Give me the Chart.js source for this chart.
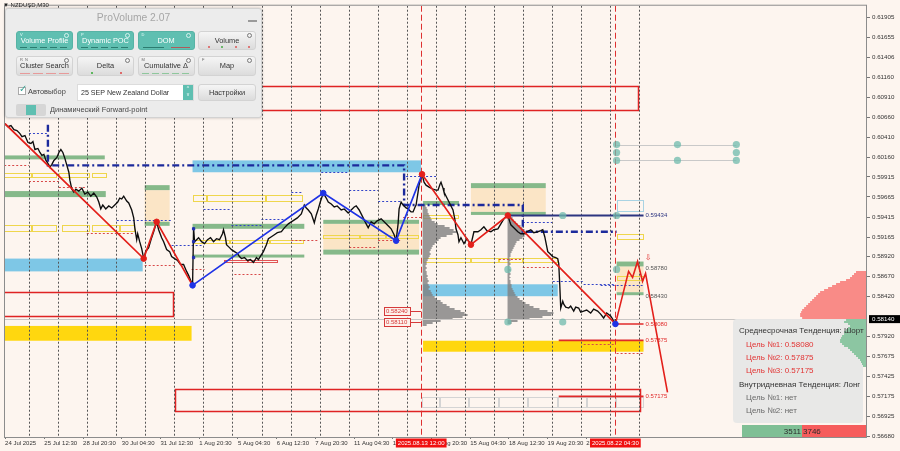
<!DOCTYPE html>
<html><head><meta charset="utf-8">
<script src="https://cdn.jsdelivr.net/npm/chart.js@4/dist/chart.umd.min.js"></script>
<style>
html,body{margin:0;padding:0;background:#fdf5ef;}
#wrap{position:relative;width:900px;height:451px;overflow:hidden;font-family:'Liberation Sans',Arial,sans-serif;}
#c{position:absolute;left:0;top:0;}
#sym{position:absolute;left:3px;top:2px;font-size:6px;line-height:7px;color:#222;}
#pv{position:absolute;left:5px;top:8px;width:257px;height:110px;background:#ececec;border:1px solid #d2d2d2;border-radius:3px;box-shadow:0 0 3px rgba(0,0,0,.25);box-sizing:border-box;}
#pv .ttl{position:absolute;left:0;right:0;top:3px;text-align:center;font-size:10.3px;color:#a6a6a6;}
#pv .mn{position:absolute;right:4px;top:11px;width:9px;height:1.5px;background:#9a9a9a;}
.btn{position:absolute;height:19px;border-radius:3px;background:linear-gradient(#f5f5f5,#dcdcdc);border:1px solid #d3d3d3;box-sizing:border-box;}
.btn.on{background:#5fbfb1;border-color:#57b3a5;}
.btn .t{position:absolute;left:0;right:0;top:4.5px;text-align:center;font-size:7.4px;line-height:8px;color:#333;white-space:nowrap;}
.btn.on .t{color:#fff;}
.btn .k{position:absolute;left:3px;top:0;font-size:4px;line-height:5px;color:#666;font-style:normal;}
.btn.on .k{color:#e9fffb;}
.btn .g{position:absolute;right:3px;top:1px;width:3px;height:3px;border-radius:50%;border:1px solid #7a7a7a;}
.btn.on .g{border-color:#d8f3ef;}
.ind{position:absolute;left:3px;right:3px;bottom:1.5px;height:1px;}
.ind.tl{background:repeating-linear-gradient(90deg,#2c7c70 0 7px,transparent 7px 10px);}
.ind.rd{background:repeating-linear-gradient(90deg,#e79a9a 0 10px,transparent 10px 13px);}
.ind.mx{background:repeating-linear-gradient(90deg,#8fc79d 0 7px,transparent 7px 10px);}
.dot{position:absolute;bottom:1.5px;width:2px;height:2px;border-radius:1px;}
.chk{position:absolute;left:12px;top:78px;width:8px;height:8px;background:#fff;border:1px solid #aaa;box-sizing:border-box;}
.chk span{position:absolute;left:0px;top:-5px;font-size:10px;color:#3aa596;}
.lbl{position:absolute;font-size:7.4px;line-height:8px;color:#444;white-space:nowrap;}
.dd{position:absolute;left:71px;top:75px;width:117px;height:17px;background:#fff;border:1px solid #dcdcdc;box-sizing:border-box;}
.dd .tx{position:absolute;left:3px;top:4px;font-size:7.1px;line-height:8px;color:#333;white-space:nowrap;}
.dd .sp{position:absolute;right:0;top:0;width:10px;height:15px;background:#5fbfb1;color:#fff;font-size:5px;line-height:6px;text-align:center;}
.tg{position:absolute;left:10px;top:95px;width:30px;height:12px;background:#d6d6d6;border-radius:2px;}
.tg i{position:absolute;left:10px;top:1px;width:10px;height:10px;background:#5fbfb1;}
#info{position:absolute;left:733px;top:319px;width:130px;height:104px;font-size:8px;line-height:9px;}
#info div{position:absolute;white-space:nowrap;}
.h{color:#333;left:6px;}
.r{color:#e23434;left:13px;}
.n{color:#6a6a6a;left:13px;}
</style></head><body>
<div id="wrap">
<canvas id="c" width="900" height="451" style="width:900px;height:451px"></canvas>
<div id="sym">▼ NZDUSD,M30</div>
<div id="info">
  <div class="h" style="top:7px">Среднесрочная Тенденция: Шорт</div>
  <div class="r" style="top:20.5px">Цель №1: 0.58080</div>
  <div class="r" style="top:34px">Цель №2: 0.57875</div>
  <div class="r" style="top:47px">Цель №3: 0.57175</div>
  <div class="h" style="top:60.5px">Внутридневная Тенденция: Лонг</div>
  <div class="n" style="top:74px">Цель №1: нет</div>
  <div class="n" style="top:87px">Цель №2: нет</div>
</div>
<div id="pv">
  <div class="ttl">ProVolume 2.07</div><div class="mn"></div>
  <div class="btn on" style="left:10px;top:22px;width:57px"><i class="k">V</i><i class="g"></i><span class="t">Volume Profile</span><b class="ind tl"></b></div>
  <div class="btn on" style="left:71px;top:22px;width:57px"><i class="k">P</i><i class="g"></i><span class="t">Dynamic POC</span><b class="ind tl"></b></div>
  <div class="btn on" style="left:131.5px;top:22px;width:57px"><i class="k">D</i><i class="g"></i><span class="t">DOM</span><b class="ind" style="left:4px;right:30px;background:#2c7c70"></b><b class="ind" style="left:32px;right:4px;background:#b05a5a"></b></div>
  <div class="btn" style="left:192px;top:22px;width:58px"><i class="g"></i><span class="t">Volume</span><b class="dot" style="left:9px;background:#d55"></b><b class="dot" style="left:22px;background:#4a4"></b><b class="dot" style="left:36px;background:#d55"></b><b class="dot" style="left:49px;background:#d55"></b></div>
  <div class="btn" style="left:10px;top:47px;width:57px;height:20px"><i class="k">R&nbsp;&nbsp;N</i><i class="g"></i><span class="t">Cluster Search</span><b class="ind rd"></b></div>
  <div class="btn" style="left:71px;top:47px;width:57px;height:20px"><i class="g"></i><span class="t">Delta</span><b class="dot" style="left:13px;background:#3a3"></b><b class="dot" style="left:42px;background:#d44"></b></div>
  <div class="btn" style="left:131.5px;top:47px;width:57px;height:20px"><i class="k">M</i><i class="g"></i><span class="t">Cumulative Δ</span><b class="ind mx"></b></div>
  <div class="btn" style="left:192px;top:47px;width:58px;height:20px"><i class="k">F</i><i class="g"></i><span class="t">Map</span></div>
  <div class="chk"><span>✓</span></div>
  <div class="lbl" style="left:22px;top:79px">Автовыбор</div>
  <div class="dd"><span class="tx">25 SEP New Zealand Dollar</span><div class="sp">^<br>v</div></div>
  <div class="btn" style="left:192px;top:75px;width:58px;height:17px"><span class="t" style="top:4px">Настройки</span></div>
  <div class="tg"><i></i></div>
  <div class="lbl" style="left:44px;top:97px">Динамический Forward-point</div>
</div>
</div>
<script>
// ---------- DATA (time = trading day index from 24 Jul 2025 00:00, price = NZDUSD) ----------
const xTickDays = [0.1667,1.5208,2.8542,4.1875,5.5208,6.8542,8.1875,9.5208,10.8542,12.1875,13.5208,14.8542,16.1875,17.5208,18.8542,20.1875];
const xTickLabels = ['24 Jul 2025','25 Jul 12:30','28 Jul 20:30','30 Jul 04:30','31 Jul 12:30','1 Aug 20:30','5 Aug 04:30','6 Aug 12:30','7 Aug 20:30','11 Aug 04:30','12 Aug 12:30','13 Aug 20:30','15 Aug 04:30','18 Aug 12:30','19 Aug 20:30','21 Aug 04:30'];
const yTickLabels = ['0.61905','0.61655','0.61406','0.61160','0.60910','0.60660','0.60410','0.60160','0.59915','0.59665','0.59415','0.59165','0.58920','0.58670','0.58420','0.57920','0.57675','0.57425','0.57175','0.56925','0.56680'];
const currentPrice = 0.58140;
const timeMarkerDays = [14.5, 21.1875];
const timeMarkerLabels = ['2025.08.13 12:00','2025.08.22 04:30'];

const priceDays = [0.165,0.268,0.371,0.474,0.577,0.680,0.749,0.852,0.955,1.058,
1.127,1.196,1.299,1.368,1.436,1.505,1.574,1.643,1.711,1.780,
1.849,1.952,2.021,2.089,2.158,2.227,2.296,2.364,2.399,2.467,
2.536,2.605,2.708,2.811,2.914,3.017,3.120,3.223,3.326,3.395,
3.464,3.533,3.636,3.739,3.842,3.945,4.048,4.117,4.186,4.254,
4.357,4.426,4.529,4.598,4.632,4.667,4.701,4.735,4.804,4.873,
4.942,5.010,5.113,5.216,5.285,5.388,5.457,5.560,5.629,5.732,
5.835,5.904,6.007,6.110,6.213,6.316,6.419,6.488,6.557,6.625,
6.660,6.694,6.763,6.832,6.935,7.038,7.141,7.244,7.347,7.450,
7.553,7.656,7.691,7.759,7.794,7.897,7.966,8.069,8.172,8.241,
8.309,8.412,8.515,8.619,8.722,8.825,8.893,8.997,9.065,9.168,
9.237,9.340,9.443,9.546,9.684,9.787,9.924,10.027,10.131,10.234,
10.371,10.440,10.474,10.543,10.612,10.715,10.784,10.818,10.887,10.955,
11.024,11.127,11.230,11.299,11.402,11.505,11.608,11.746,11.849,11.986,
12.089,12.192,12.261,12.364,12.433,12.536,12.605,12.674,12.777,12.880,
12.983,13.120,13.223,13.292,13.395,13.464,13.567,13.636,13.704,13.739,
13.808,13.876,13.979,14.048,14.151,14.220,14.289,14.323,14.392,14.426,
14.495,14.529,14.598,14.667,14.770,14.907,15.010,15.079,15.148,15.182,
15.251,15.285,15.388,15.457,15.526,15.595,15.663,15.698,15.766,15.801,
15.869,15.973,16.076,16.213,16.316,16.454,16.557,16.660,16.763,16.900,
17.003,17.141,17.244,17.347,17.416,17.485,17.553,17.588,17.691,17.828,
17.931,18.034,18.137,18.275,18.378,18.515,18.619,18.687,18.756,18.790,
18.859,18.928,19.031,19.134,19.203,19.237,19.271,19.306,19.375,19.409,
19.478,19.581,19.649,19.753,19.821,19.924,19.993,20.096,20.199,20.337,
20.440,20.577,20.680,20.784,20.887,21.024,21.093,21.162,21.190];
const priceClose = [0.60580,0.60543,0.60556,0.60506,0.60494,0.60457,0.60419,0.60432,0.60345,0.60333,
0.60357,0.60258,0.60271,0.60221,0.60184,0.60197,0.60122,0.60085,0.60036,0.60073,
0.60122,0.60159,0.60221,0.60258,0.60221,0.60147,0.60060,0.59974,0.59875,0.59763,
0.59726,0.59763,0.59738,0.59776,0.59701,0.59726,0.59676,0.59714,0.59664,0.59602,
0.59516,0.59565,0.59516,0.59553,0.59528,0.59565,0.59602,0.59652,0.59640,0.59676,
0.59615,0.59590,0.59503,0.59404,0.59293,0.59206,0.59132,0.59206,0.59107,0.59020,
0.58896,0.58983,0.59033,0.59157,0.59231,0.59355,0.59256,0.59157,0.59107,0.59008,
0.58983,0.58921,0.58896,0.58872,0.58822,0.58822,0.58736,0.58686,0.58624,0.58562,
0.59280,0.59107,0.59132,0.59157,0.59107,0.59082,0.59132,0.59157,0.59107,0.59144,
0.59132,0.59206,0.59256,0.59157,0.59070,0.59033,0.59008,0.58983,0.58959,0.58921,
0.58896,0.58909,0.58872,0.58884,0.58847,0.58909,0.58884,0.58946,0.58983,0.59070,
0.59144,0.59169,0.59194,0.59219,0.59231,0.59280,0.59330,0.59355,0.59380,0.59404,
0.59454,0.59528,0.59565,0.59528,0.59503,0.59454,0.59380,0.59343,0.59441,0.59516,
0.59602,0.59714,0.59652,0.59602,0.59578,0.59540,0.59553,0.59503,0.59516,0.59466,
0.59503,0.59540,0.59553,0.59503,0.59454,0.59380,0.59330,0.59280,0.59355,0.59330,
0.59367,0.59392,0.59355,0.59330,0.59293,0.59268,0.59194,0.59120,0.59330,0.59516,
0.59602,0.59565,0.59528,0.59516,0.59479,0.59479,0.59540,0.59565,0.59726,0.59813,
0.59912,0.59949,0.59850,0.59813,0.59788,0.59763,0.59751,0.59751,0.59825,0.59850,
0.59776,0.59726,0.59652,0.59602,0.59553,0.59503,0.59380,0.59268,0.59194,0.59107,
0.59157,0.59082,0.59144,0.59070,0.59231,0.59231,0.59256,0.59293,0.59244,0.59231,
0.59256,0.59268,0.59330,0.59392,0.59416,0.59434,0.59355,0.59318,0.59280,0.59231,
0.59206,0.59206,0.59231,0.59256,0.59219,0.59231,0.59244,0.59256,0.59169,0.59107,
0.58983,0.58959,0.58921,0.58909,0.58896,0.58835,0.58575,0.58278,0.58364,0.58327,
0.58290,0.58278,0.58303,0.58241,0.58290,0.58278,0.58228,0.58241,0.58253,0.58216,
0.58265,0.58241,0.58203,0.58154,0.58216,0.58179,0.58142,0.58080,0.58140];

const zigzagDays   = [0.165,4.942,5.388,6.625,11.127,13.636,14.529,16.213,17.485,21.19];
const zigzagPrices = [0.60580,0.58896,0.59355,0.58562,0.59714,0.59120,0.59949,0.59070,0.59434,0.58080];
const forecastDays   = [21.19,21.643,21.780,21.952,22.124,22.227,22.983];
const forecastPrices = [0.58080,0.58736,0.58661,0.58860,0.58612,0.58711,0.57225];
const spikeMarkDays = [6.66,6.66,6.66];
const spikeMarkPrices = [0.59268,0.59107,0.58909];

// zones: [startDay, endDay, topPrice, bottomPrice]
const greenZones = [[0,3.601,0.60184,0.60135],[0,3.636,0.59739,0.59664],[4.976,5.835,0.59813,0.59751],[4.976,5.835,0.59355,0.59305],
 [6.625,10.474,0.59330,0.59268],[6.625,10.474,0.58946,0.58909],[11.127,14.426,0.59380,0.59330],[11.127,14.426,0.59008,0.58946],
 [14.564,15.801,0.59615,0.59565],[16.213,18.790,0.59838,0.59776],[16.213,18.790,0.59479,0.59441],[21.23,22.158,0.58859,0.58798],[21.23,22.158,0.58476,0.58439]];
const beigeZones = [[4.976,5.835,0.59751,0.59355],[11.127,14.426,0.59330,0.59008],[16.213,18.790,0.59776,0.59479],[21.23,22.158,0.58798,0.58476]];
const blueZones = [[0,4.907,0.58896,0.58736],[6.625,14.495,0.60122,0.59974],[14.564,19.203,0.58575,0.58426]];
const goldZones = [[0,6.591,0.58055,0.57870],[14.564,22.158,0.57870,0.57733]];
const yellowBoxes = [[0,1.093,0.59961,0.59899],[1.093,1.952,0.59961,0.59899],[2.021,3.086,0.59961,0.59899],[3.155,3.670,0.59961,0.59899],
 [0,1.093,0.59318,0.59231],[1.093,1.952,0.59318,0.59231],[2.124,3.086,0.59318,0.59231],[3.155,4.117,0.59318,0.59231],[4.117,4.632,0.59318,0.59231],
 [6.625,7.107,0.59689,0.59602],[7.107,9.168,0.59689,0.59602],[9.168,10.440,0.59689,0.59602],
 [6.625,7.9,0.59132,0.59082],[7.9,9.3,0.59132,0.59082],[9.3,10.474,0.59132,0.59082],
 [11.127,12.4,0.59194,0.59144],[12.4,13.3,0.59194,0.59144],[13.3,14.426,0.59194,0.59144],
 [14.564,15.801,0.59441,0.59392],
 [14.564,16.213,0.58909,0.58835],[16.213,17.175,0.58909,0.58835],[17.175,18.0,0.58909,0.58835],[18.0,19.203,0.58909,0.58835],
 [21.23,22.158,0.59206,0.59132],[21.23,22.158,0.58674,0.58612]];
const redBoxes = [[0,21.986,0.61051,0.60741],[0,5.973,0.58476,0.58166],[6.007,22.055,0.57262,0.56978]];
const smallRedBoxes = [[7.691,8.55,0.58884,0.58835],[8.55,9.581,0.58884,0.58835]];
const grayBoxes = [[14.529,15.148,0.57163,0.57027],[15.148,16.144,0.57163,0.57027],[16.144,17.175,0.57163,0.57027],[17.175,18.172,0.57163,0.57027],
 [18.172,19.203,0.57163,0.57027],[19.203,20.199,0.57163,0.57027],[20.199,21.196,0.57163,0.57027],[21.196,22.158,0.57163,0.57027]];
const blueOutlineBoxes = [[21.23,22.158,0.59627,0.59479]];
// levels: [startDay, endDay, price]
const redDotted = [[0,0.99,0.60060],[0.99,2.021,0.59862],[2.021,2.914,0.59788],[2.983,4.632,0.59219],[4.976,6.007,0.58822],[6.591,7.038,0.58760],
 [8.069,8.997,0.58699],[10.027,10.955,0.59132],[12.021,12.95,0.59045],[13.017,13.808,0.59132],[13.876,14.564,0.59417],[17.175,18.0,0.58896],
 [18.0,19.031,0.58785],[20.096,21.196,0.57832],[21.23,22.158,0.57720]];
const blueDotted = [[0.99,1.608,0.60469],[4.014,5.904,0.59380],[5.904,6.935,0.59070],[7.003,7.966,0.59516],[7.966,8.997,0.59318],[8.997,9.856,0.59392],
 [10.027,10.440,0.59726],[11.058,11.986,0.59974],[12.021,13.017,0.59751],[13.017,13.808,0.59615],[13.979,15.010,0.59924],[18.0,19.031,0.59355],
 [19.031,20.096,0.58612],[20.096,21.196,0.58575],[20.68,22.158,0.58562]];
const navyPathDays   = [1.643,1.643,13.911,13.911,18.0,18.0,21.23];
const navyPathPrices = [0.60568,0.60060,0.60060,0.59565,0.59565,0.59231,0.59231];
const targetLevels = [0.59434,0.58780,0.58430,0.58080,0.57875,0.57175];
const targetLineStarts = [17.519,null,null,21.23,19.237,19.237];
const targetEndDay = 22.158;
const priceTags = [0.58240,0.58110];
const circleDays   = [19.375,21.23,17.485,21.23,17.485,19.375,21.23,21.23,21.23,23.326,23.326,25.354,25.354,25.354];
const circlePrices = [0.59434,0.59434,0.58760,0.58760,0.58104,0.58104,0.60320,0.60221,0.60122,0.60320,0.60122,0.60320,0.60221,0.60122];
// volume profiles (relative volume per price bin, top bin first)
const profile1Start = 14.55, profile1Top = 0.59565;
const profile1Vol = [3,4,5,5,6,7,8,9,12,15,22,27,31,34,30,24,18,16,14,12,10,9,8,7,8,7,6,5,4,4,3,4,3,4,4,5,4,5,6,5,6,7,6,8,9,10,12,14,18,20,24,27,32,38,42,45,40,30,18,10,4];
const profile2Start = 17.474, profile2Top = 0.59441;
const profile2Vol = [3,5,6,8,10,13,15,17,18,19,17,15,12,9,8,7,6,5,4,3,3,2,3,2,3,2,2,3,2,3,2,3,2,3,3,4,4,5,6,7,8,10,12,15,18,22,26,32,40,46,44,35,22,10,4];
const sellProfileTop = 0.58736;
const sellProfileVol = [10,12,14,16,20,26,30,34,38,42,46,48,50,52,54,56,58,60,62,64,65,66,66,64];
const buyProfileTop = 0.58142;
const buyProfileVol = [20,22,18,16,18,20,22,22,24,25,26,26,24,22,18,16,14,12,10,8,6,5,4,3];
const buyVolume = 3511, sellVolume = 3746;

// ---------- drawing ----------
const binStep = 0.000248, volToDays = 1/29.1;
Chart.defaults.font.family = "'Liberation Sans', Arial, sans-serif";

const overlay = {
  id:'overlay',
  beforeDraw(chart){ const c=chart.ctx; c.save(); c.fillStyle='#fdf5ef'; c.fillRect(0,0,chart.width,chart.height); c.restore(); },
  beforeDatasetsDraw(chart){
    const ctx=chart.ctx, xs=chart.scales.x, ys=chart.scales.y, ca=chart.chartArea;
    const X=v=>xs.getPixelForValue(v), Y=v=>ys.getPixelForValue(v);
    ctx.save();
    ctx.beginPath(); ctx.rect(ca.left,ca.top,ca.right-ca.left,ca.bottom-ca.top); ctx.clip();
    const fill=(z,c)=>{const x1=X(z[0]),x2=X(z[1]),y1=Y(z[2]),y2=Y(z[3]);ctx.fillStyle=c;ctx.fillRect(x1,y1,x2-x1,y2-y1);};
    const box=(z,c,lw)=>{ctx.setLineDash([]);ctx.strokeStyle=c;ctx.lineWidth=lw;const x1=Math.round(X(z[0]))+.5,x2=Math.round(X(z[1]))-.5,y1=Math.round(Y(z[2]))+.5,y2=Math.round(Y(z[3]))-.5;ctx.strokeRect(x1,y1,x2-x1,y2-y1);};
    const hl=(l,c,dash,lw)=>{ctx.setLineDash(dash);ctx.strokeStyle=c;ctx.lineWidth=lw;const y=Math.round(Y(l[2]))+.5;ctx.beginPath();ctx.moveTo(X(l[0]),y);ctx.lineTo(X(l[1]),y);ctx.stroke();};
    beigeZones.forEach(z=>fill(z,'#fbe5c6'));
    greenZones.forEach(z=>fill(z,'#86b98a'));
    blueZones.forEach(z=>fill(z,'#7ec7e6'));
    goldZones.forEach(z=>fill(z,'#ffd70f'));
    yellowBoxes.forEach(z=>box(z,'#efd64c',1));
    grayBoxes.forEach(z=>box(z,'#d4d4d4',1));
    blueOutlineBoxes.forEach(z=>box(z,'#a9d3e3',1));
    redBoxes.forEach(z=>box(z,'#df2323',1.5));
    smallRedBoxes.forEach(z=>box(z,'#e05555',1));
    // gray volume profiles
    ctx.fillStyle='rgba(128,128,128,0.8)';
    const prof=(start,top,vols)=>vols.forEach((v,i)=>{const y1=Math.round(Y(top-i*binStep)),y2=Math.round(Y(top-(i+1)*binStep));const x1=X(start),x2=X(start+v*volToDays);ctx.fillRect(x1,y1,x2-x1,Math.max(1,y2-y1));});
    prof(profile1Start,profile1Top,profile1Vol);
    prof(profile2Start,profile2Top,profile2Vol);
    redDotted.forEach(l=>hl(l,'#d84848',[2,2],1));
    blueDotted.forEach(l=>hl(l,'#3344c8',[2,2],1));
    // day separators
    ctx.setLineDash([2,2]); ctx.strokeStyle='#555'; ctx.lineWidth=1;
    for(let k=1;k<=22;k++){const x=Math.round(X(k))+.5;ctx.beginPath();ctx.moveTo(x,ca.top);ctx.lineTo(x,ca.bottom);ctx.stroke();}
    // red vertical time markers
    ctx.setLineDash([6,3]); ctx.strokeStyle='#de3030';
    timeMarkerDays.forEach(d=>{const x=Math.round(X(d))+.5;ctx.beginPath();ctx.moveTo(x,ca.top);ctx.lineTo(x,ca.bottom);ctx.stroke();});
    // current price line
    ctx.setLineDash([]); ctx.strokeStyle='#c9c6c4';
    {const y=Math.round(Y(currentPrice))+.5;ctx.beginPath();ctx.moveTo(ca.left,y);ctx.lineTo(ca.right,y);ctx.stroke();}
    // navy dash-dot path
    ctx.setLineDash([7,3,2,3]); ctx.strokeStyle='#1c2a9c'; ctx.lineWidth=2.4;
    ctx.beginPath(); navyPathDays.forEach((d,i)=>{const x=X(d),y=Y(navyPathPrices[i]); i?ctx.lineTo(x,y):ctx.moveTo(x,y);}); ctx.stroke();
    // target lines
    ctx.setLineDash([]);
    targetLevels.forEach((p,i)=>{ if(targetLineStarts[i]===null) return; ctx.strokeStyle = i===0?'#2d3580':'#e02a2a'; ctx.lineWidth= i===0?2:1.6; const y=Y(p); ctx.beginPath(); ctx.moveTo(X(targetLineStarts[i]),y); ctx.lineTo(X(targetEndDay),y); ctx.stroke();});
    // circles
    ctx.strokeStyle='#c9c9c9'; ctx.lineWidth=1;
    [[0.60320],[0.60122]].forEach(a=>{const y=Math.round(Y(a[0]))+.5;ctx.beginPath();ctx.moveTo(X(21.23),y);ctx.lineTo(X(25.354),y);ctx.stroke();});
    ctx.fillStyle='rgba(110,185,172,0.75)';
    circleDays.forEach((d,i)=>{ctx.beginPath();ctx.arc(X(d),Y(circlePrices[i]),3.6,0,Math.PI*2);ctx.fill();});
    // info box background (right bottom widget)
    ctx.fillStyle='rgba(231,231,230,0.97)';
    ctx.beginPath(); if(ctx.roundRect){ctx.roundRect(ca.right-133,ca.bottom-118,130,104,4);}else{ctx.rect(ca.right-133,ca.bottom-118,130,104);} ctx.fill();
    // right-side session profile
    const rprof=(top,vols,c)=>{ctx.fillStyle=c;vols.forEach((v,i)=>{const y1=Math.round(Y(top-i*binStep)),y2=Math.round(Y(top-(i+1)*binStep));const x1=X(xs.max-v*volToDays);ctx.fillRect(x1,y1,ca.right-x1,Math.max(1,y2-y1));});};
    rprof(sellProfileTop,sellProfileVol,'#f98b87');
    rprof(buyProfileTop,buyProfileVol,'rgba(135,196,158,0.95)');
    ctx.restore();
  },
  afterDraw(chart){
    const ctx=chart.ctx, xs=chart.scales.x, ys=chart.scales.y, ca=chart.chartArea;
    const X=v=>xs.getPixelForValue(v), Y=v=>ys.getPixelForValue(v);
    ctx.save();
    ctx.setLineDash([]);
    ctx.strokeStyle='#8c8c8c'; ctx.lineWidth=1;
    ctx.strokeRect(ca.left-0.5,ca.top-0.5,ca.right-ca.left+1,ca.bottom-ca.top+1);
    ctx.textBaseline='middle'; ctx.textAlign='left'; ctx.font="6px 'Liberation Sans'";
    const tcol=['#2d3580','#555','#555','#e02a2a','#e02a2a','#e02a2a'];
    targetLevels.forEach((p,i)=>{ctx.fillStyle=tcol[i];ctx.fillText(p.toFixed(5),X(targetEndDay)+2,Y(p));});
    // price tags
    priceTags.forEach(p=>{const y=Math.round(Y(p)),x1=Math.round(X(13.223))+.5,x2=Math.round(X(14.117))+.5;
      ctx.fillStyle='#fdf0ea';ctx.fillRect(x1,y-4,x2-x1,8);ctx.strokeStyle='#d63a3a';ctx.lineWidth=1;ctx.strokeRect(x1,y-3.5,x2-x1,8);
      ctx.beginPath();ctx.moveTo(x2,y+.5);ctx.lineTo(X(14.5),y+.5);ctx.stroke();
      ctx.fillStyle='#d63a3a';ctx.fillText(p.toFixed(5),x1+1.5,y+.5);});
    ctx.fillStyle='#e02a2a'; ctx.font="8px 'DejaVu Sans'"; ctx.fillText('⇩',X(22.2),Y(0.58909));
    // time markers on x axis
    ctx.font="6px 'Liberation Sans'"; ctx.textAlign='center';
    timeMarkerDays.forEach((d,i)=>{const x=X(d),w=ctx.measureText(timeMarkerLabels[i]).width+4;ctx.fillStyle='#f01010';ctx.fillRect(x-w/2,ca.bottom+1.5,w,9);ctx.fillStyle='#fff';ctx.fillText(timeMarkerLabels[i],x,ca.bottom+6.3);});
    // current price label
    const yp=Y(currentPrice); ctx.fillStyle='#000'; ctx.fillRect(ca.right+3,yp-4,31,8);
    ctx.fillStyle='#fff'; ctx.textAlign='left'; ctx.font="6.2px 'Liberation Sans'"; ctx.fillText(currentPrice.toFixed(5),ca.right+6,yp+.3);
    // buy / sell volume bar
    const bx=ca.right-124, bw=124, by=ca.bottom-12, gw=bw*buyVolume/(buyVolume+sellVolume);
    ctx.fillStyle='#7fbf95'; ctx.fillRect(bx,by,gw,12);
    ctx.fillStyle='#f65c5c'; ctx.fillRect(bx+gw,by,bw-gw,12);
    ctx.font="8px 'Liberation Sans'"; ctx.fillStyle='#2a2a2a'; ctx.textAlign='right'; ctx.fillText(String(buyVolume),bx+gw-1,by+6.5);
    ctx.textAlign='left'; ctx.fillText(String(sellVolume),bx+gw+1,by+6.5);
    ctx.restore();
  }
};

const pts=(xa,ya)=>xa.map((x,i)=>({x,y:ya[i]}));
const zz=pts(zigzagDays,zigzagPrices);
const redIdx=[1,2,6,7,8], blueIdx=[3,4,5,9];
new Chart(document.getElementById('c'),{
  type:'line',
  data:{datasets:[
    {data:pts(priceDays,priceClose),borderColor:'#0d0d0d',borderWidth:1.35,pointRadius:0,order:10},
    {data:zz.slice(0,4),borderColor:'#e3201b',borderWidth:1.7,pointRadius:0,order:5},
    {data:zz.slice(3,7),borderColor:'#1f33e6',borderWidth:1.7,pointRadius:0,order:5},
    {data:zz.slice(6,10),borderColor:'#e3201b',borderWidth:1.7,pointRadius:0,order:5},
    {data:pts(forecastDays,forecastPrices),borderColor:'#e3201b',borderWidth:1.6,pointRadius:0,order:5},
    {type:'scatter',data:redIdx.map(i=>zz[i]),backgroundColor:'#e3201b',borderColor:'#e3201b',pointRadius:2.8,order:1},
    {type:'scatter',data:blueIdx.map(i=>zz[i]),backgroundColor:'#1f33e6',borderColor:'#1f33e6',pointRadius:2.8,order:1},
    {type:'scatter',data:pts(spikeMarkDays,spikeMarkPrices),backgroundColor:'#1f2fb0',borderColor:'#1f2fb0',pointStyle:'rect',pointRadius:1.6,order:2}
  ]},
  options:{
    responsive:false,devicePixelRatio:1,animation:false,
    layout:{padding:{left:3,top:2,right:0,bottom:0}},
    plugins:{legend:{display:false},tooltip:{enabled:false}},
    elements:{line:{tension:0}},
    scales:{
      x:{type:'linear',min:0.165,max:29.82,
        afterBuildTicks:s=>{s.ticks=xTickDays.map(v=>({value:v}));},
        afterFit:s=>{s.height=14;},
        ticks:{callback:(v,i)=>xTickLabels[i],align:'start',maxRotation:0,autoSkip:false,font:{size:6},color:'#333',padding:1},
        grid:{drawOnChartArea:false,tickLength:2,color:'#777'},border:{color:'#8c8c8c'}},
      y:{type:'linear',position:'right',min:0.56668,max:0.620536,
        afterBuildTicks:s=>{s.ticks=yTickLabels.map(v=>({value:parseFloat(v)}));},
        afterFit:s=>{s.width=34;},
        ticks:{callback:(v,i)=>yTickLabels[i],autoSkip:false,font:{size:6.2},color:'#333',padding:2},
        grid:{drawOnChartArea:false,tickLength:4,color:'#777'},border:{color:'#8c8c8c'}}
    }
  },
  plugins:[overlay]
});
</script>
</body></html>
